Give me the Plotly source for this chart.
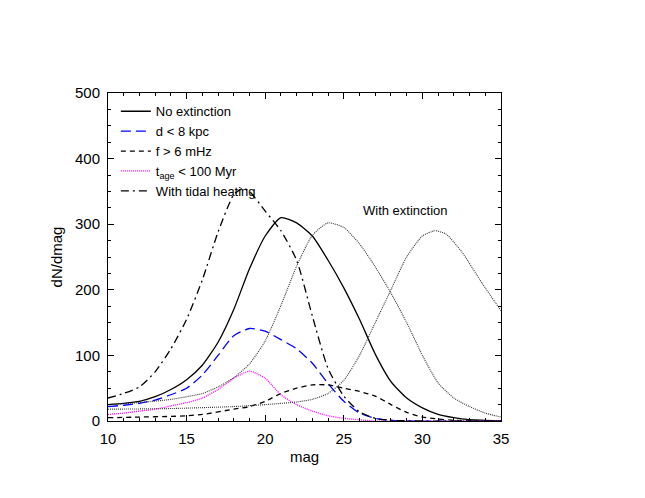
import plotly.graph_objects as go

m_noext = [10,11,12,13,14,15,16,17,18,19,20,21,22,23,24,25,26,27,28,29,30,31,32,33,34,35]
v_noext = [25,27,30,37,48,63,85,120,170,232,282,310,302,282,245,203,155,102,60,35,20,10,5,2,1,0]
m_d = [10,11,12,13,14,15,16,17,18,19,20,21,22,23,24,25,26,27,28,29,35]
v_d = [22,24,27,32,40,50,70,100,130,141,137,124,110,88,57,30,12,4,1,0,0]
m_f = [10,12,14,15,16,18,19,20,21,22,23,24,25,26,27,28,29,30,31,32,35]
v_f = [5,6,7,8,10,18,22,30,42,50,55,55,50,45,38,25,13,6,3,1,0]
m_t = [10,11,12,13,14,15,16,17,18,19,20,21,22,23,24,25,26,27,35]
v_t = [10,12,15,18,23,28,35,48,65,76,65,40,25,15,8,4,2,0,0]
m_tidal = [10,11,12,13,14,15,16,17,18,18.6,19,20,21,22,23,24,25,26,27,28,30,35]
v_tidal = [35,42,52,75,110,155,215,288,345,355,350,320,290,245,160,80,38,14,4,1,0,0]
m_ext1 = [10,12,14,16,17,18,19,20,21,22,23,24,25,26,27,28,29,30,31,32,33,34,35]
v_ext1 = [25,28,33,42,52,66,87,122,176,236,283,302,295,270,235,195,150,100,58,35,22,12,6]
m_ext2 = [10,14,18,20,22,23,24,25,26,27,28,29,30,30.8,31.5,32.5,33.8,35]
v_ext2 = [18,19,22,25,29,33,42,62,100,150,200,250,282,290,285,258,210,168]

fig = go.Figure()
def add(x, y, name, color, dash, show=True, width=1.3):
    fig.add_trace(go.Scatter(x=x, y=y, mode="lines", name=name, showlegend=show,
                             line=dict(color=color, dash=dash, width=width, shape="spline", smoothing=0.6)))
add(m_noext, v_noext, "No extinction", "black", "solid")
add(m_d, v_d, "d &lt; 8 kpc", "blue", "10px,5px")
add(m_f, v_f, "f &gt; 6 mHz", "black", "5px,4px")
add(m_t, v_t, "t<sub>age</sub> &lt; 100 Myr", "magenta", "1px,1px")
add(m_tidal, v_tidal, "With tidal heating", "black", "8px,4px,2px,4px")
add(m_ext1, v_ext1, "ext1", "#333", "1px,1px", show=False, width=1.1)
add(m_ext2, v_ext2, "ext2", "#333", "1px,1px", show=False, width=1.1)

fig.add_annotation(x=28.9, y=321, text="With extinction", showarrow=False,
                   font=dict(size=13, color="black"))

axis = dict(showgrid=False, zeroline=False, showline=True, linecolor="black", linewidth=1,
            mirror="ticks", ticks="inside", ticklen=6, tickcolor="black",
            tickfont=dict(size=15, color="black"))
fig.update_xaxes(range=[10, 35], dtick=5, ticklabelstandoff=4,
                 title=dict(text="mag", font=dict(size=15), standoff=5),
                 minor=dict(dtick=1, ticks="inside", ticklen=3, tickcolor="black"), **axis)
fig.update_yaxes(range=[0, 500], dtick=100, ticklabelstandoff=4,
                 title=dict(text="dN/dmag", font=dict(size=15), standoff=8),
                 minor=dict(dtick=25, ticks="inside", ticklen=3, tickcolor="black"), **axis)
fig.update_layout(width=645, height=498, margin=dict(l=100, r=152, t=85, b=85),
                  paper_bgcolor="white", plot_bgcolor="white",
                  font=dict(family="Liberation Sans, Arial", color="black"),
                  legend=dict(x=0.02, y=0.99, xanchor="left", yanchor="top", bgcolor="rgba(0,0,0,0)",
                              font=dict(size=13), tracegroupgap=0, itemwidth=30))
fig.write_html("out.html")
